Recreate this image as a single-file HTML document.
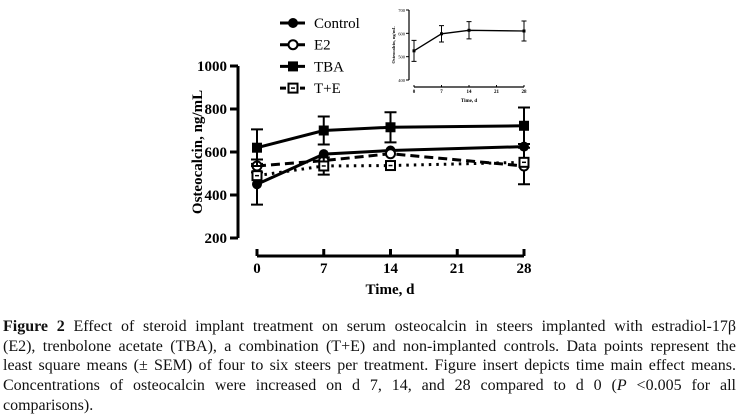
<!DOCTYPE html>
<html><head><meta charset="utf-8"><style>
html,body{margin:0;padding:0;background:#fff;}
body{width:739px;height:413px;overflow:hidden;position:relative;font-family:"Liberation Serif",serif;}
#cap{position:absolute;left:3px;top:317px;width:733px;font-size:16px;line-height:19.7px;color:#111;}
#cap .ln{display:block;text-align:justify;text-align-last:justify;white-space:nowrap;}
#cap .ln.last{text-align-last:left;}
</style></head><body>
<svg id="chart" width="739" height="300" style="position:absolute;left:0;top:0" font-family="Liberation Serif, serif"></svg>
<div id="cap"><span class="ln"><b>Figure 2</b> Effect of steroid implant treatment on serum osteocalcin in steers implanted with estradiol-17β</span><span class="ln">(E2), trenbolone acetate (TBA), a combination (T+E) and non-implanted controls. Data points represent the</span><span class="ln">least square means (± SEM) of four to six steers per treatment. Figure insert depicts time main effect means.</span><span class="ln">Concentrations of osteocalcin were increased on d 7, 14, and 28 compared to d 0 (<i>P</i> &lt;0.005 for all</span><span class="ln last">comparisons).</span></div>
<script>
const days=[0,7,14,21,28];
const xTicks=["0","7","14","21","28"];
const yTicks=[200,400,600,800,1000];
const pointDays=[0,7,14,28];
const control=[450,590,607,625];
const controlErr=[95,0,0,0];
const e2=[535,560,592,535];
const e2Err=[30,0,0,85];
const tba=[620,700,715,722];
const tbaErr=[85,65,70,85];
const te=[490,535,537,552];
const teErr=[0,40,0,0];
const insetYTicks=[400,500,600,700];
const insetMeans=[525,598,613,610];
const insetErr=[45,35,37,43];

const NS="http://www.w3.org/2000/svg";
const svg=document.getElementById('chart');
function mk(tag,at,parent){const e=document.createElementNS(NS,tag);for(const k in at)e.setAttribute(k,at[k]);(parent||svg).appendChild(e);return e;}
const X=d=>257+d*(524-257)/28;
const Y=v=>66+(1000-v)*(238-66)/800;

let ya=mk('line',{x1:238,y1:Y(1000),x2:238,y2:Y(200),stroke:'#000','stroke-width':3});

yTicks.forEach(v=>{
  let t=mk('line',{x1:230,x2:238,y1:Y(v),y2:Y(v),stroke:'#000','stroke-width':3});
  
  let l=mk('text',{x:227,y:Y(v)+5,'text-anchor':'end','font-size':15,'font-weight':'bold'});
  l.textContent=v;
});
let yt=mk('text',{x:0,y:0,transform:'translate(202,152) rotate(-90)','text-anchor':'middle','font-size':15,'font-weight':'bold'});
yt.textContent='Osteocalcin, ng/mL';
let xa=mk('line',{x1:X(0),x2:X(28),y1:256,y2:256,stroke:'#000','stroke-width':3});

days.forEach((d,i)=>{
  let t=mk('line',{x1:X(d),x2:X(d),y1:249,y2:256,stroke:'#000','stroke-width':3});
  
  let l=mk('text',{x:X(d),y:273,'text-anchor':'middle','font-size':15,'font-weight':'bold'});
  l.textContent=xTicks[i];
});
let xt=mk('text',{x:390,y:294,'text-anchor':'middle','font-size':15,'font-weight':'bold'});
xt.textContent='Time, d';

function marker(type,x,y,g){
  if(type==='fc')mk('circle',{cx:x,cy:y,r:5,fill:'#000'},g);
  if(type==='oc')mk('circle',{cx:x,cy:y,r:4.5,fill:'#fff',stroke:'#000','stroke-width':2},g);
  if(type==='fs')mk('rect',{x:x-5,y:y-5,width:10,height:10,fill:'#000'},g);
  if(type==='os'){mk('rect',{x:x-4.5,y:y-4.5,width:9,height:9,fill:'#fff',stroke:'#000','stroke-width':2},g);mk('line',{x1:x-2,x2:x+2,y1:y,y2:y,stroke:'#000','stroke-width':1.5},g);}
}
const series=[
  {name:'control',vals:control,err:controlErr,m:'fc',dash:''},
  {name:'e2',vals:e2,err:e2Err,m:'oc',dash:'9,5'},
  {name:'tba',vals:tba,err:tbaErr,m:'fs',dash:''},
  {name:'te',vals:te,err:teErr,m:'os',dash:'2.5,5'}
];
series.forEach(s=>{
  const g=mk('g',{});
  
  const pts=pointDays.map((d,i)=>X(d)+','+Y(s.vals[i])).join(' ');
  const pl=mk('polyline',{points:pts,fill:'none',stroke:'#000','stroke-width':3,'stroke-dasharray':s.dash},g);
  
  pointDays.forEach((d,i)=>{
    if(s.err[i]>0){
      const x=X(d),y1=Y(s.vals[i]+s.err[i]),y2=Y(s.vals[i]-s.err[i]);
      const e=mk('path',{d:`M${x},${y1}V${y2}M${x-6},${y1}H${x+6}M${x-6},${y2}H${x+6}`,stroke:'#000','stroke-width':2,fill:'none'},g);
      
    }
    marker(s.m,X(pointDays[i]),Y(s.vals[i]),g);
  });
});
const legNames=['Control','E2','TBA','T+E'];const legM=['fc','oc','fs','os'];const legD=['','','','6,4'];
legNames.forEach((n,i)=>{
  const g=mk('g',{});
  const y=23+i*21.7;
  mk('line',{x1:280,x2:305,y1:y,y2:y,stroke:'#000','stroke-width':3,'stroke-dasharray':legD[i]},g);
  marker(legM[i],293,y,g);
  const t=mk('text',{x:314,y:y+5,'font-size':15},g);t.textContent=n;
});
const IX=d=>414+d*(524-414)/28;
const IY=v=>10+(700-v)*(80-10)/300;
const ig=mk('g',{});
mk('line',{x1:409,x2:409,y1:IY(700),y2:IY(400),stroke:'#000','stroke-width':1.2},ig);
insetYTicks.forEach(v=>{mk('line',{x1:406,x2:409,y1:IY(v),y2:IY(v),stroke:'#000','stroke-width':1},ig);
  const t=mk('text',{x:405,y:IY(v)+2,'text-anchor':'end','font-size':4.5},ig);t.textContent=v;});
mk('line',{x1:IX(0),x2:IX(28),y1:87,y2:87,stroke:'#000','stroke-width':1.2},ig);
days.forEach((d,i)=>{mk('line',{x1:IX(d),x2:IX(d),y1:85,y2:87,stroke:'#000','stroke-width':1},ig);
  const t=mk('text',{x:IX(d),y:93,'text-anchor':'middle','font-size':5,'font-weight':'bold'},ig);t.textContent=xTicks[i];});
const it=mk('text',{x:469,y:102,'text-anchor':'middle','font-size':5,'font-weight':'bold'},ig);it.textContent='Time, d';
const iyt=mk('text',{x:0,y:0,transform:'translate(395,45) rotate(-90)','text-anchor':'middle','font-size':4.5,'font-weight':'bold'},ig);iyt.textContent='Osteocalcin, ng/mL';
mk('polyline',{points:pointDays.map((d,i)=>IX(d)+','+IY(insetMeans[i])).join(' '),fill:'none',stroke:'#000','stroke-width':1.3},ig);
pointDays.forEach((d,i)=>{const x=IX(d),a=IY(insetMeans[i]+insetErr[i]),b=IY(insetMeans[i]-insetErr[i]);
  mk('path',{d:`M${x},${a}V${b}M${x-2.5},${a}H${x+2.5}M${x-2.5},${b}H${x+2.5}`,stroke:'#000','stroke-width':1,fill:'none'},ig);
  mk('rect',{x:x-1.5,y:IY(insetMeans[i])-1.5,width:3,height:3,fill:'#000'},ig);});
</script>
</body></html>
